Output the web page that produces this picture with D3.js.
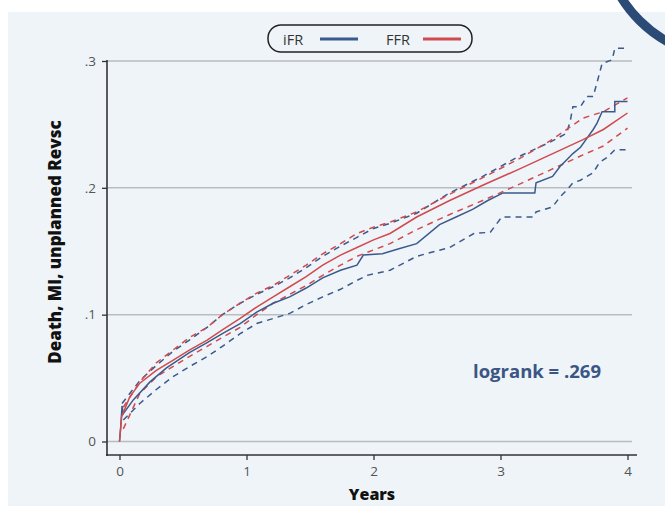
<!DOCTYPE html>
<meta charset="utf-8">
<script src="https://d3js.org/d3.v7.min.js"></script>
<style>
  body { margin: 0; background: #fff; }
  text { font-family: "Open Sans", "Noto Sans", sans-serif; }
</style>
<svg id="chart" width="665" height="506"></svg>
<script>
// iFR: estimate and 95% band
const ifrYears = [0, 0.01, 0.02, 0.03, 0.11, 0.24, 0.37, 0.55, 0.69, 0.81, 0.95, 1.08, 1.21, 1.34, 1.47, 1.6, 1.74, 1.87, 1.92, 2.07, 2.2, 2.34, 2.52, 2.65, 2.78, 2.9, 3.02, 3.27, 3.28, 3.41, 3.47, 3.52, 3.57, 3.63, 3.68, 3.73, 3.76, 3.8, 3.9, 3.9, 4.0];
const ifr = [0, 0.012, 0.028, 0.022, 0.033, 0.047, 0.058, 0.070, 0.078, 0.085, 0.093, 0.102, 0.109, 0.114, 0.121, 0.129, 0.135, 0.139, 0.147, 0.148, 0.152, 0.156, 0.171, 0.177, 0.183, 0.19, 0.196, 0.196, 0.204, 0.209, 0.217, 0.222, 0.227, 0.232, 0.239, 0.246, 0.251, 0.26, 0.26, 0.268, 0.268];

const ifrHiYears = [0.02, 0.16, 0.29, 0.42, 0.55, 0.69, 0.81, 0.95, 1.08, 1.21, 1.34, 1.47, 1.6, 1.74, 1.87, 2.0, 2.13, 2.34, 2.6, 2.86, 3.13, 3.39, 3.52, 3.55, 3.57, 3.63, 3.68, 3.73, 3.76, 3.8, 3.88, 3.9, 3.98];
const ifrHi = [0.03, 0.048, 0.06, 0.071, 0.08, 0.09, 0.1, 0.109, 0.116, 0.122, 0.129, 0.137, 0.146, 0.154, 0.161, 0.168, 0.172, 0.18, 0.196, 0.209, 0.224, 0.236, 0.243, 0.253, 0.264, 0.264, 0.272, 0.272, 0.283, 0.298, 0.301, 0.31, 0.31];

const ifrLoYears = [0.03, 0.16, 0.29, 0.42, 0.55, 0.69, 0.81, 0.95, 1.08, 1.21, 1.34, 1.47, 1.6, 1.74, 1.87, 1.95, 2.13, 2.34, 2.6, 2.79, 2.92, 3.01, 3.26, 3.28, 3.41, 3.47, 3.52, 3.57, 3.63, 3.73, 3.78, 3.84, 3.9, 4.0];
const ifrLo = [0.017, 0.03, 0.041, 0.051, 0.059, 0.067, 0.075, 0.085, 0.093, 0.097, 0.101, 0.108, 0.114, 0.12, 0.127, 0.131, 0.135, 0.146, 0.153, 0.164, 0.165, 0.177, 0.177, 0.181, 0.185, 0.193, 0.198, 0.204, 0.206, 0.212, 0.22, 0.224, 0.23, 0.23];

// FFR: estimate and 95% band
const ffrYears = [0, 0.017, 0.08, 0.16, 0.29, 0.42, 0.55, 0.69, 0.81, 0.95, 1.08, 1.21, 1.34, 1.47, 1.6, 1.74, 1.87, 2.0, 2.13, 2.34, 2.6, 2.86, 3.13, 3.39, 3.65, 3.81, 4.0];
const ffr = [0, 0.0195, 0.035, 0.046, 0.056, 0.064, 0.072, 0.08, 0.088, 0.097, 0.106, 0.114, 0.122, 0.13, 0.139, 0.147, 0.153, 0.159, 0.164, 0.177, 0.19, 0.202, 0.214, 0.226, 0.238, 0.246, 0.259];

const ffrBandYears = [0.03, 0.16, 0.29, 0.42, 0.55, 0.69, 0.81, 0.95, 1.08, 1.21, 1.34, 1.47, 1.6, 1.74, 1.87, 2.0, 2.13, 2.34, 2.6, 2.86, 3.13, 3.39, 3.65, 3.81, 4.0];
const ffrHi = [0.027, 0.047, 0.062, 0.072, 0.082, 0.09, 0.1, 0.109, 0.117, 0.123, 0.131, 0.139, 0.148, 0.156, 0.164, 0.169, 0.173, 0.181, 0.195, 0.208, 0.222, 0.237, 0.255, 0.26, 0.271];
const ffrLo = [0.01, 0.038, 0.051, 0.059, 0.067, 0.075, 0.082, 0.09, 0.1, 0.109, 0.116, 0.123, 0.131, 0.139, 0.146, 0.151, 0.156, 0.167, 0.179, 0.19, 0.202, 0.214, 0.226, 0.233, 0.247];

const yTicks = [0, 0.1, 0.2, 0.3];
const xTicks = [0, 1, 2, 3, 4];

const blue = "#3a5a8c", red = "#d04a4e";

const svg = d3.select("#chart");

// background panel + decorative arc
svg.append("rect").attr("x", 8).attr("y", 12).attr("width", 657).attr("height", 494).attr("fill", "#eff4f8");
svg.append("circle").attr("cx", 730).attr("cy", -70).attr("r", 128)
  .attr("fill", "none").attr("stroke", "#2b4a75").attr("stroke-width", 9);

const x = d3.scaleLinear().domain([0, 4]).range([119.5, 627.5]);
const y = d3.scaleLinear().domain([0, 0.3]).range([441.5, 61]);

// gridlines
svg.append("g").selectAll("line").data(yTicks).enter().append("line")
  .attr("x1", 107).attr("x2", 632)
  .attr("y1", d => y(d)).attr("y2", d => y(d))
  .attr("stroke", "#b9bdc1").attr("stroke-width", 1.5);

// y axis
const yAxis = svg.append("g").attr("transform", "translate(107,0)")
  .call(d3.axisLeft(y).tickValues(yTicks).tickSize(5).tickPadding(6)
    .tickFormat(d => d === 0 ? "0" : d3.format(".1f")(d).replace(/^0/, "")));
yAxis.select(".domain").remove();
yAxis.selectAll("line").attr("stroke", "#333").attr("stroke-width", 1.3);
yAxis.selectAll("text").attr("font-size", 13.5).attr("fill", "#555");
svg.append("line").attr("x1", 107).attr("x2", 107).attr("y1", 60).attr("y2", 456)
  .attr("stroke", "#333").attr("stroke-width", 1.6);

// x axis
const xAxis = svg.append("g").attr("transform", "translate(0,455)")
  .call(d3.axisBottom(x).tickValues(xTicks).tickSize(5).tickPadding(6).tickFormat(d3.format("d")));
xAxis.select(".domain").remove();
xAxis.selectAll("line").attr("stroke", "#333").attr("stroke-width", 1.3);
xAxis.selectAll("text").attr("font-size", 13.5).attr("fill", "#555");
svg.append("line").attr("x1", 106).attr("x2", 637).attr("y1", 455).attr("y2", 455)
  .attr("stroke", "#333").attr("stroke-width", 1.6);

// curves
const line = d3.line().x(d => x(d[0])).y(d => y(d[1]));
function draw(years, vals, color, dashed) {
  svg.append("path")
    .datum(years.map((t, i) => [t, vals[i]]))
    .attr("d", line)
    .attr("fill", "none")
    .attr("stroke", color)
    .attr("stroke-width", 1.5)
    .attr("stroke-dasharray", dashed ? "6,5" : null);
}
draw(ifrHiYears, ifrHi, blue, true);
draw(ifrLoYears, ifrLo, blue, true);
draw(ffrBandYears, ffrHi, red, true);
draw(ffrBandYears, ffrLo, red, true);
draw(ifrYears, ifr, blue, false);
draw(ffrYears, ffr, red, false);

// axis titles
svg.append("text").attr("transform", "translate(61,242) rotate(-90)")
  .attr("text-anchor", "middle").attr("font-size", 17).attr("font-weight", 800)
  .attr("fill", "#111").text("Death, MI, unplanned Revsc");
svg.append("text").attr("x", 372).attr("y", 500)
  .attr("text-anchor", "middle").attr("font-size", 16).attr("font-weight", 800)
  .attr("fill", "#111").text("Years");

// logrank note
svg.append("text").attr("x", 473).attr("y", 378)
  .attr("font-size", 18.5).attr("font-weight", 700).attr("fill", "#3b5584")
  .text("logrank = .269");

// legend
const legend = svg.append("g");
legend.append("rect").attr("x", 268).attr("y", 25).attr("width", 204).attr("height", 27)
  .attr("rx", 13).attr("fill", "none").attr("stroke", "#222").attr("stroke-width", 1.5);
const keys = [{ name: "iFR", color: blue, tx: 283, lx: 320 }, { name: "FFR", color: red, tx: 386, lx: 423 }];
legend.selectAll("text").data(keys).enter().append("text")
  .attr("x", d => d.tx).attr("y", 44.5).attr("font-size", 14.5).attr("fill", "#333")
  .text(d => d.name);
legend.selectAll("line").data(keys).enter().append("line")
  .attr("x1", d => d.lx).attr("x2", d => d.lx + 38)
  .attr("y1", 39).attr("y2", 39)
  .attr("stroke", d => d.color).attr("stroke-width", 3);
</script>
